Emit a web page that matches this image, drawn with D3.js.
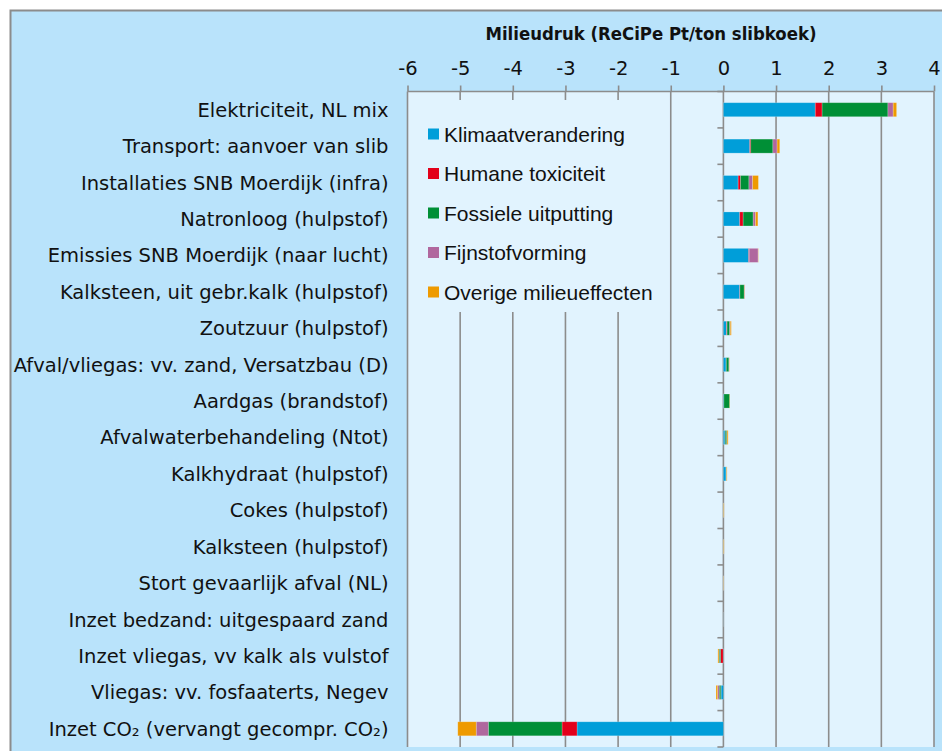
<!DOCTYPE html>
<html>
<head>
<meta charset="utf-8">
<script src="https://cdn.jsdelivr.net/npm/d3@7"></script>
<style>
    body { margin: 0; background: #ffffff; }
    #chart { width: 942px; height: 751px; }
    .cat-label, .tick text { font-family: "DejaVu Sans", sans-serif; fill: #111; }
    .legend text { font-family: "Liberation Sans", Arial, sans-serif; fill: #111; }
</style>
</head>
<body>
<div id="chart"></div>
<script>
// categories, top to bottom
var categories = [
    "Elektriciteit, NL mix",
    "Transport: aanvoer van slib",
    "Installaties SNB Moerdijk (infra)",
    "Natronloog (hulpstof)",
    "Emissies SNB Moerdijk (naar lucht)",
    "Kalksteen, uit gebr.kalk (hulpstof)",
    "Zoutzuur (hulpstof)",
    "Afval/vliegas: vv. zand, Versatzbau (D)",
    "Aardgas (brandstof)",
    "Afvalwaterbehandeling (Ntot)",
    "Kalkhydraat (hulpstof)",
    "Cokes (hulpstof)",
    "Kalksteen (hulpstof)",
    "Stort gevaarlijk afval (NL)",
    "Inzet bedzand: uitgespaard zand",
    "Inzet vliegas, vv kalk als vulstof",
    "Vliegas: vv. fosfaaterts, Negev",
    "Inzet CO\u2082 (vervangt gecompr. CO\u2082)"
];

// series (ReCiPe Pt/ton slibkoek)
var klimaat  = [1.745, 0.50, 0.28, 0.31, 0.48, 0.31, 0.06, 0.05, 0.01, 0.03, 0.05, 0.003, 0.003, 0.002, 0.002, -0.005, -0.045, -2.78];
var humaan   = [0.13, 0.02, 0.045, 0.065, 0.01, 0.005, 0.01, 0.005, 0, 0.005, 0.005, 0, 0, 0, 0, -0.05, -0.005, -0.285];
var fossiel  = [1.25, 0.42, 0.16, 0.19, 0, 0.08, 0.05, 0.05, 0.11, 0.03, 0.005, 0, 0, 0, 0, -0.025, -0.03, -1.40];
var fijnstof = [0.10, 0.08, 0.07, 0.045, 0.17, 0.01, 0.01, 0.005, 0, 0.005, 0, 0, 0, 0, 0, -0.005, -0.03, -0.23];
var overig   = [0.065, 0.05, 0.11, 0.045, 0.005, 0.005, 0.02, 0.005, 0.005, 0.02, 0.01, 0.01, 0.01, 0.005, 0, -0.02, -0.03, -0.35];

var seriesNames = ["Klimaatverandering", "Humane toxiciteit", "Fossiele uitputting", "Fijnstofvorming", "Overige milieueffecten"];
var seriesColors = ["#009ed9", "#e2001a", "#008f36", "#b0679e", "#ee9a00"];
var xTicks = [-6, -5, -4, -3, -2, -1, 0, 1, 2, 3, 4];
var axisTitle = "Milieudruk (ReCiPe Pt/ton slibkoek)";

ImpactChart = function(_parentElement){
    this.parentElement = _parentElement;
    this.initVis();
};

ImpactChart.prototype.initVis = function(){
    var vis = this;

    vis.width = 942;
    vis.height = 751;

    vis.svg = d3.select("#" + vis.parentElement).append("svg")
        .attr("width", vis.width)
        .attr("height", vis.height);

    // chart background + frame
    vis.svg.append("rect")
        .attr("x", 10.5).attr("y", 10.5)
        .attr("width", vis.width).attr("height", vis.height)
        .attr("fill", "#b9e3fb")
        .attr("stroke", "#8c8c8c")
        .attr("stroke-width", 2);

    // plot area
    vis.plot = { left: 407.5, right: 934, top: 91.5, bottom: 747 };

    vis.x = d3.scaleLinear()
        .domain([-6, 4])
        .range([vis.plot.left, vis.plot.right]);

    vis.y = d3.scaleBand()
        .domain(categories)
        .range([vis.plot.top, vis.plot.bottom])
        .paddingInner(0.615)
        .paddingOuter(0.3075);

    vis.svg.append("rect")
        .attr("x", vis.plot.left).attr("y", vis.plot.top)
        .attr("width", vis.plot.right - vis.plot.left)
        .attr("height", vis.plot.bottom - vis.plot.top)
        .attr("fill", "#e1f3fe");

    vis.wrangleData();
};

ImpactChart.prototype.wrangleData = function(){
    var vis = this;

    vis.rows = categories.map(function(c, i){
        return { cat: c, s0: klimaat[i], s1: humaan[i], s2: fossiel[i], s3: fijnstof[i], s4: overig[i] };
    });

    vis.stacked = d3.stack()
        .keys(["s0", "s1", "s2", "s3", "s4"])
        .offset(d3.stackOffsetDiverging)(vis.rows);

    vis.updateVis();
};

ImpactChart.prototype.updateVis = function(){
    var vis = this;
    var step = vis.y.step();
    var gridColor = "#8c8c8c";

    // gridlines
    vis.svg.append("g").selectAll("line.grid")
        .data(xTicks)
        .enter().append("line")
        .attr("class", "grid")
        .attr("x1", function(d){ return vis.x(d); })
        .attr("x2", function(d){ return vis.x(d); })
        .attr("y1", vis.plot.top)
        .attr("y2", vis.plot.bottom)
        .attr("stroke", gridColor)
        .attr("stroke-width", 1.6);

    // legend box covers the gridlines on the left
    var legend = vis.svg.append("g").attr("class", "legend");
    legend.append("rect")
        .attr("x", vis.x(-6) + 1.5).attr("y", 100)
        .attr("width", vis.x(-1) - vis.x(-6) - 3)
        .attr("height", 212)
        .attr("fill", "#e1f3fe");

    var items = legend.selectAll("g.item")
        .data(seriesNames)
        .enter().append("g")
        .attr("class", "item")
        .attr("transform", function(d, i){ return "translate(428," + (134 + i * 39.5) + ")"; });

    items.append("rect")
        .attr("x", 0).attr("y", -5.5)
        .attr("width", 11).attr("height", 11)
        .attr("fill", function(d, i){ return seriesColors[i]; });

    items.append("text")
        .attr("x", 16)
        .attr("dy", "0.36em")
        .style("font-size", "21px")
        .text(function(d){ return d; });

    // top border of plot
    vis.svg.append("line")
        .attr("x1", vis.plot.left).attr("x2", vis.plot.right)
        .attr("y1", vis.plot.top).attr("y2", vis.plot.top)
        .attr("stroke", gridColor)
        .attr("stroke-width", 1.6);

    // bars
    vis.svg.append("g").selectAll("g.series")
        .data(vis.stacked)
        .enter().append("g")
        .attr("class", "series")
        .attr("fill", function(d, i){ return seriesColors[i]; })
        .selectAll("rect")
        .data(function(d){ return d; })
        .enter().append("rect")
        .attr("x", function(d){ return vis.x(Math.min(d[0], d[1])); })
        .attr("width", function(d){ return Math.abs(vis.x(d[1]) - vis.x(d[0])); })
        .attr("y", function(d){ return vis.y(d.data.cat); })
        .attr("height", vis.y.bandwidth())
        .attr("stroke", "#ffffff")
        .attr("stroke-opacity", 0.25)
        .attr("stroke-width", 0.8);

    // x axis on top
    vis.xAxis = d3.axisTop(vis.x)
        .tickValues(xTicks)
        .tickSize(6)
        .tickPadding(11)
        .tickFormat(d3.format("d"));

    vis.gX = vis.svg.append("g")
        .attr("class", "x-axis axis")
        .attr("transform", "translate(0," + vis.plot.top + ")")
        .call(vis.xAxis);

    vis.gX.select(".domain").remove();
    vis.gX.selectAll(".tick line").attr("stroke", gridColor).attr("stroke-width", 1.6);
    vis.gX.selectAll(".tick text")
        .style("font-size", "19.5px")
        .text(function(d){ return d < 0 ? "-" + Math.abs(d) : d; });

    // category axis at zero
    var x0 = vis.x(0);
    var bounds = d3.range(categories.length + 1).map(function(i){
        return vis.plot.top + i * step;
    });
    vis.svg.append("g").selectAll("line.ytick")
        .data(bounds)
        .enter().append("line")
        .attr("class", "ytick")
        .attr("x1", x0 - 6).attr("x2", x0)
        .attr("y1", function(d){ return d; })
        .attr("y2", function(d){ return d; })
        .attr("stroke", gridColor)
        .attr("stroke-width", 1.6);

    // category labels
    vis.svg.append("g").selectAll("text.cat-label")
        .data(categories)
        .enter().append("text")
        .attr("class", "cat-label")
        .attr("x", vis.plot.left - 19)
        .attr("y", function(d){ return vis.y(d) + vis.y.bandwidth() / 2; })
        .attr("dy", "0.36em")
        .attr("text-anchor", "end")
        .style("font-size", "19.5px")
        .text(function(d){ return d; });

    // axis title
    vis.svg.append("text")
        .attr("x", 651)
        .attr("y", 40)
        .attr("text-anchor", "middle")
        .style("font-family", "\"DejaVu Sans Condensed\", \"DejaVu Sans\", sans-serif")
        .style("font-weight", "bold")
        .style("font-size", "18.4px")
        .style("fill", "#111")
        .text(axisTitle);
};

var chart = new ImpactChart("chart");
</script>
</body>
</html>
